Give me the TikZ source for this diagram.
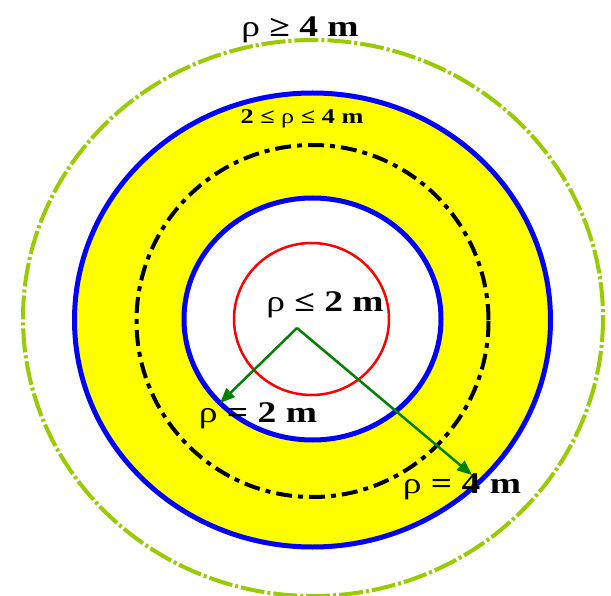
\documentclass[tikz,border=0pt]{standalone}
\usepackage{fontspec}
\setmainfont{Liberation Serif}
\usetikzlibrary{arrows.meta}
\definecolor{ringblue}{RGB}{0,0,255}
\definecolor{ringred}{RGB}{255,0,0}
\definecolor{zoneyel}{RGB}{255,255,0}
\definecolor{arrgreen}{RGB}{0,128,0}
\definecolor{limegrn}{RGB}{153,204,0}
\tikzset{
  ringb/.style={draw=ringblue,line width=5pt},
  ringr/.style={draw=ringred,line width=2.5pt},
  ringk/.style={draw=black,line width=4pt,dash pattern=on 16pt off 6pt on 5pt off 6pt},
  ringg/.style={draw=limegrn,line width=4pt,dash pattern=on 24pt off 3pt on 3pt off 3pt},
  lbl/.style={font=\bfseries\fontsize{30}{32}\selectfont,inner sep=0pt},
  lbls/.style={font=\bfseries\fontsize{21}{23}\selectfont,inner sep=0pt},
  radarrow/.style={-{Triangle[length=15pt,width=12pt]},draw=arrgreen,fill=arrgreen,line width=2.5pt},
}
\newcommand{\rh}{{\mdseries ρ}}
% the labels of the source are stretched sideways
\newcommand{\wide}[1]{\scalebox{1.25}[1]{#1}}

\begin{document}
\begin{tikzpicture}[x=1pt,y=-1pt]
  \useasboundingbox (0,0) rectangle (611,596);

  \fill[zoneyel,even odd rule] (312.5,320) ellipse [x radius=238,y radius=227]
    (312.5,319) ellipse [x radius=128.5,y radius=121];
  \draw[ringk] (312.5,321) circle [radius=176];
  \draw[ringb] (312.5,320) ellipse [x radius=238,y radius=227];
  \draw[ringb] (312.5,319) ellipse [x radius=128.5,y radius=121];
  \draw[ringg] (313,318) ellipse [x radius=290,y radius=278];
  \draw[ringr] (311.5,319) ellipse [x radius=77.5,y radius=76];

  \coordinate (o) at (297,328);
  \coordinate (tipin) at (220,403);
  \coordinate (tipout) at (472,475);
  \draw[radarrow] (o) -- (tipin);
  \draw[radarrow] (o) -- (tipout);

  \node[lbl]  (outer) at (300,30)  {\wide{\rh{} ≥ 4 m}};
  \node[lbls] (band)  at (302,119) {\wide{2 ≤ \rh{} ≤ 4 m}};
  \node[lbl]  (inner) at (325,305) {\wide{\rh{} ≤ 2 m}};
  \node[lbl]  (rin)   at (258,416) {\wide{\rh{} = 2 m}};
  \node[lbl]  (rout)  at (462,487) {\wide{\rh{} = 4 m}};
\end{tikzpicture}
\end{document}
